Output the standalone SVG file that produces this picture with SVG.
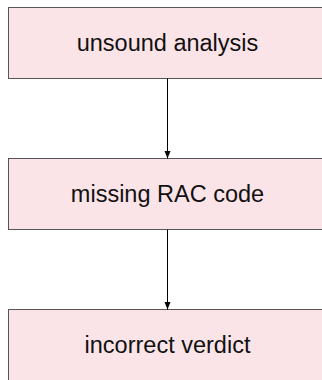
<svg xmlns="http://www.w3.org/2000/svg" width="322" height="380" viewBox="0 0 322 380">
<style>
.box{fill:#fbe4e8;stroke:#555;stroke-width:1}
.lbl{font-family:"Liberation Sans",Arial,sans-serif;font-size:23.5px;fill:#111;text-anchor:middle}
.edge{stroke:#000;stroke-width:1;fill:none}
</style>
<defs>
<marker id="ah" viewBox="0 0 8 8" refX="8" refY="4" markerWidth="8" markerHeight="8" markerUnits="userSpaceOnUse" orient="auto">
<path d="M0,0.8 L8,4 L0,7.2 Z" fill="#000"/>
</marker>
</defs>
<g id="n1"><rect class="box" x="8.5" y="7.5" width="318" height="71"/><text class="lbl" x="167.5" y="51">unsound analysis</text></g>
<g id="n2"><rect class="box" x="8.5" y="158.5" width="318" height="71"/><text class="lbl" x="167.5" y="202">missing RAC code</text></g>
<g id="n3"><rect class="box" x="8.5" y="309.5" width="318" height="71"/><text class="lbl" x="167.5" y="353">incorrect verdict</text></g>
<g id="edges">
<line class="edge" x1="167.5" y1="78.5" x2="167.5" y2="158.5" marker-end="url(#ah)"/>
<line class="edge" x1="167.5" y1="229.5" x2="167.5" y2="309.5" marker-end="url(#ah)"/>
</g>
</svg>
